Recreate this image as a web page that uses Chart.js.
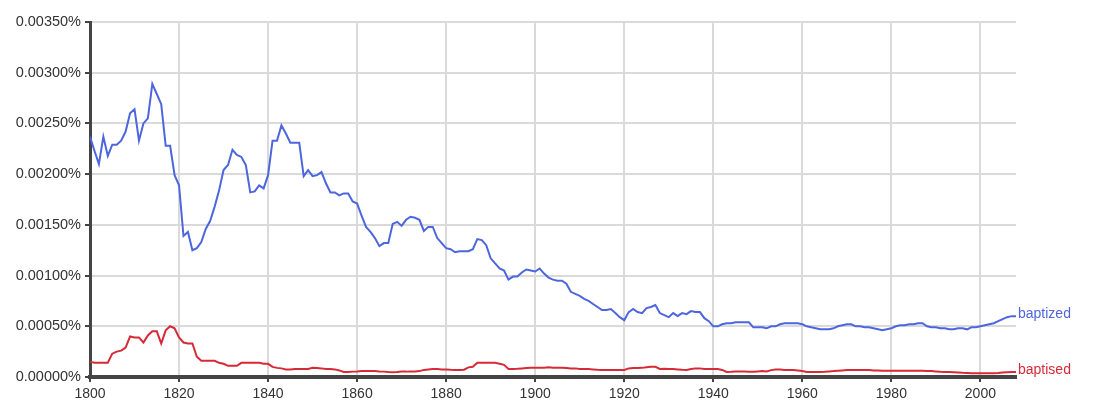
<!DOCTYPE html>
<html>
<head>
<meta charset="utf-8">
<script src="https://cdn.jsdelivr.net/npm/chart.js@4/dist/chart.umd.min.js"></script>
<style>
  html, body { margin: 0; padding: 0; background: #ffffff; }
  #wrap { width: 1094px; height: 408px; position: relative; }
</style>
</head>
<body>
<div id="wrap"><canvas id="c" width="1094" height="408"></canvas></div>
<script>
const startYear = 1800;
const endYear = 2008;
const years = Array.from({length: endYear - startYear + 1}, (_, i) => startYear + i);

const seriesNames = ["baptized", "baptised"];
const seriesColors = ["#4d66dd", "#d62a36"];

// values in percent
const baptized = [
  0.00237,0.00223,0.00210,0.00237,0.00218,0.00229,0.00229,0.00233,0.00242,0.00260,
  0.00264,0.00233,0.00250,0.00255,0.00289,0.00279,0.00269,0.00228,0.00228,0.00199,
  0.00189,0.00139,0.00143,0.00125,0.00127,0.00133,0.00146,0.00154,0.00168,0.00184,
  0.00204,0.00209,0.00224,0.00219,0.00217,0.00209,0.00182,0.00183,0.00189,0.00186,
  0.00199,0.00233,0.00233,0.00248,0.00240,0.00231,0.00231,0.00231,0.00198,0.00204,
  0.00198,0.00199,0.00202,0.00191,0.00182,0.00182,0.00179,0.00181,0.00181,0.00173,
  0.00171,0.00159,0.00148,0.00143,0.00137,0.00129,0.00132,0.00132,0.00151,0.00153,
  0.00149,0.00155,0.00158,0.00157,0.00155,0.00144,0.00148,0.00148,0.00137,0.00132,
  0.00127,0.00126,0.00123,0.00124,0.00124,0.00124,0.00126,0.00136,0.00135,0.00130,
  0.00117,0.00112,0.00107,0.00105,0.00096,0.00099,0.00099,0.00103,0.00106,0.00105,
  0.00104,0.00107,0.00102,0.00098,0.00096,0.00095,0.00095,0.00092,0.00084,0.00082,
  0.00080,0.00077,0.00075,0.00072,0.00069,0.00066,0.00066,0.00067,0.00063,0.00059,
  0.00056,0.00064,0.00067,0.00064,0.00063,0.00068,0.00069,0.00071,0.00063,0.00061,
  0.00059,0.00063,0.00060,0.00063,0.00062,0.00065,0.00064,0.00064,0.00058,0.00055,
  0.00050,0.00050,0.00052,0.00053,0.00053,0.00054,0.00054,0.00054,0.00054,0.00049,
  0.00049,0.00049,0.00048,0.00050,0.00050,0.00052,0.00053,0.00053,0.00053,0.00053,
  0.00052,0.00050,0.00049,0.00048,0.00047,0.00047,0.00047,0.00048,0.00050,0.00051,
  0.00052,0.00052,0.00050,0.00050,0.00049,0.00049,0.00048,0.00047,0.00046,0.00047,
  0.00048,0.00050,0.00051,0.00051,0.00052,0.00052,0.00053,0.00053,0.00050,0.00049,
  0.00049,0.00048,0.00048,0.00047,0.00047,0.00048,0.00048,0.00047,0.00049,0.00049,
  0.00050,0.00051,0.00052,0.00053,0.00055,0.00057,0.00059,0.00060,0.00060
];

const baptised = [
  0.00015,0.00014,0.00014,0.00014,0.00014,0.00023,0.00025,0.00026,0.00029,0.00040,
  0.00039,0.00039,0.00034,0.00041,0.00045,0.00045,0.00033,0.00046,0.00050,0.00048,
  0.00039,0.00034,0.00033,0.00033,0.00020,0.00016,0.00016,0.00016,0.00016,0.00014,
  0.00013,0.00011,0.00011,0.00011,0.00014,0.00014,0.00014,0.00014,0.00014,0.00013,
  0.00013,0.00010,0.00009,0.000085,0.000075,0.000075,0.000078,0.000078,0.000078,0.00008,
  0.00009,0.000088,0.000085,0.00008,0.000078,0.000075,0.000065,0.00005,0.00005,0.000053,
  0.000055,0.000058,0.000058,0.000058,0.000058,0.000055,0.000053,0.00005,0.000048,0.00005,
  0.000053,0.000053,0.000055,0.000055,0.000058,0.00007,0.000075,0.000078,0.000078,0.000075,
  0.000075,0.000072,0.00007,0.000068,0.000072,0.000095,0.0001,0.00014,0.00014,0.00014,
  0.00014,0.00014,0.00013,0.00012,0.00008,0.00008,0.000082,0.000085,0.000088,0.00009,
  0.00009,0.00009,0.000092,0.000095,0.000092,0.00009,0.00009,0.000088,0.000085,0.000085,
  0.00008,0.00008,0.000078,0.000075,0.000072,0.00007,0.00007,0.00007,0.00007,0.00007,
  0.00007,0.000085,0.000088,0.000088,0.00009,0.000095,0.0001,0.0001,0.00008,0.000082,
  0.00008,0.000078,0.000075,0.000072,0.00007,0.000078,0.000085,0.000085,0.00008,0.00008,
  0.000078,0.000078,0.00007,0.00005,0.000052,0.000055,0.000055,0.000055,0.000052,0.000052,
  0.000055,0.000058,0.000055,0.000068,0.000075,0.000075,0.00007,0.000068,0.000068,0.000065,
  0.00006,0.00005,0.00005,0.00005,0.00005,0.000052,0.000055,0.000058,0.000062,0.000065,
  0.000068,0.00007,0.00007,0.00007,0.00007,0.000068,0.000065,0.000065,0.000062,0.000062,
  0.000062,0.000062,0.000062,0.000062,0.000062,0.000062,0.000062,0.000062,0.00006,0.000058,
  0.000055,0.000052,0.00005,0.00005,0.000048,0.000045,0.000042,0.00004,0.000038,0.000036,
  0.000036,0.000036,0.000036,0.000038,0.00004,0.000045,0.000048,0.00005,0.00005
];

const yMin = 0, yMax = 0.0035, yStep = 0.0005;
const xStep = 20;

const FONT = '"Liberation Sans", Arial, Helvetica, sans-serif';

const endLabels = {
  id: 'endLabels',
  afterDatasetsDraw(chart) {
    const ctx = chart.ctx;
    ctx.save();
    ctx.font = '14px ' + FONT;
    ctx.textAlign = 'left';
    ctx.textBaseline = 'middle';
    chart.data.datasets.forEach((ds, i) => {
      const meta = chart.getDatasetMeta(i);
      const pt = meta.data[meta.data.length - 1];
      ctx.fillStyle = ds.borderColor;
      ctx.fillText(ds.label, pt.x + 2, pt.y - 2);
    });
    ctx.restore();
  }
};

const toPts = arr => arr.map((v, i) => ({x: years[i], y: v}));

new Chart(document.getElementById('c'), {
  type: 'line',
  data: {
    datasets: [
      { label: seriesNames[0], data: toPts(baptized), borderColor: seriesColors[0], borderWidth: 2, pointRadius: 0, tension: 0, fill: false },
      { label: seriesNames[1], data: toPts(baptised), borderColor: seriesColors[1], borderWidth: 2, pointRadius: 0, tension: 0, fill: false }
    ]
  },
  options: {
    responsive: false,
    animation: false,
    events: [],
    layout: { padding: { left: 0, right: 78, top: 22, bottom: 0 } },
    plugins: { legend: { display: false }, tooltip: { enabled: false } },
    scales: {
      x: {
        type: 'linear',
        min: startYear,
        max: endYear,
        afterFit(s) { s.height = 31; },
        border: { color: '#444444', width: 4 },
        grid: { color: '#dadada', lineWidth: 2, tickColor: '#444444', tickLength: 5, tickWidth: 2 },
        ticks: {
          stepSize: xStep,
          includeBounds: false,
          color: '#333333',
          font: { family: FONT, size: 14 },
          padding: 4,
          maxRotation: 0,
          callback: v => String(v)
        }
      },
      y: {
        min: yMin,
        max: yMax,
        afterFit(s) { s.width = 90; },
        border: { color: '#444444', width: 3 },
        grid: { color: '#dadada', lineWidth: 2, tickColor: '#444444', tickLength: 5, tickWidth: 2 },
        ticks: {
          stepSize: yStep,
          color: '#333333',
          font: { family: FONT, size: 14.5 },
          padding: 4,
          callback: v => v.toFixed(5) + '%'
        }
      }
    }
  },
  plugins: [endLabels]
});
</script>
</body>
</html>
